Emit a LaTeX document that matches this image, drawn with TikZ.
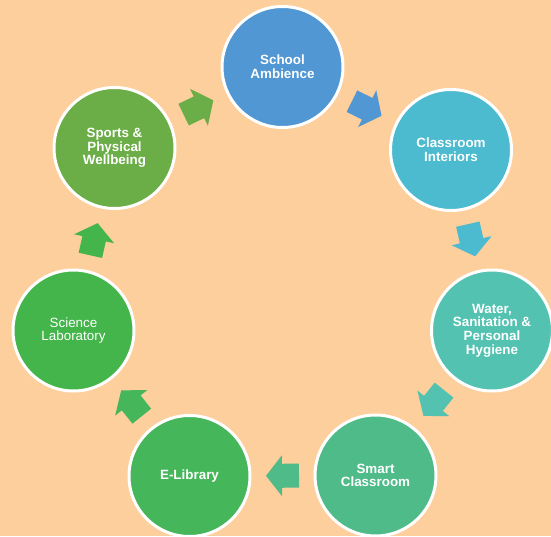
\documentclass[tikz,border=0pt]{standalone}
\usepackage{fontspec}
\setmainfont{Liberation Sans}
\definecolor{bgc}{HTML}{FCCF9C}
\definecolor{cA}{HTML}{5197D3}
\definecolor{cB}{HTML}{4CBACF}
\definecolor{cC}{HTML}{54C2B1}
\definecolor{cD}{HTML}{4FBB89}
\definecolor{cE}{HTML}{46B65B}
\definecolor{cF}{HTML}{44B54A}
\definecolor{cG}{HTML}{6BAD47}
\tikzset{
  stage/.style={circle, fill=#1, draw=white, line width=3pt, minimum size=121pt,
    inner sep=0pt, text=white, align=center,
    font=\bfseries\fontsize{13.4}{13.6}\selectfont},
  blockarrow/.pic={\fill[#1] (-16.5,-12) -- (0.5,-12) -- (0.5,-20.5) -- (16.5,0)
    -- (0.5,20.5) -- (0.5,12) -- (-16.5,12) -- cycle;}
}
\begin{document}
\begin{tikzpicture}[x=1pt,y=1pt]
\useasboundingbox (0,0) rectangle (551,536);
\clip (0,0) rectangle (551,536);
\fill[bgc] (0,0) rectangle (551,536);
\node[stage=cA] (n1) at (282.5,469) {School\\Ambience};
\node[stage=cB] (n2) at (451,386) {Classroom\\Interiors};
\node[stage=cC] (n3) at (492,205.5) {Water,\\Sanitation \&\\Personal\\Hygiene};
\node[stage=cD] (n4) at (375.5,60.5) {Smart\\Classroom};
\node[stage=cE] (n5) at (189.5,60) {E-Library};
\node[stage=cF, font=\fontsize{13.4}{13.6}\selectfont] (n6) at (73.5,205.5) {Science\\Laboratory};
\node[stage=cG] (n7) at (114.5,388) {Sports \&\\Physical\\Wellbeing};
\path (n1) -- pic[pos=0.5, sloped, allow upside down] {blockarrow=cA} (n2);
\path (n2) -- pic[pos=0.5, sloped, allow upside down] {blockarrow=cB} (n3);
\path (n3) -- pic[pos=0.5, sloped, allow upside down] {blockarrow=cC} (n4);
\path (n4) -- pic[pos=0.5, sloped, allow upside down] {blockarrow=cD} (n5);
\path (n5) -- pic[pos=0.5, sloped, allow upside down] {blockarrow=cE} (n6);
\path (n6) -- pic[pos=0.5, sloped, allow upside down] {blockarrow=cF} (n7);
\path (n7) -- pic[pos=0.5, sloped, allow upside down] {blockarrow=cG} (n1);
\end{tikzpicture}
\end{document}
